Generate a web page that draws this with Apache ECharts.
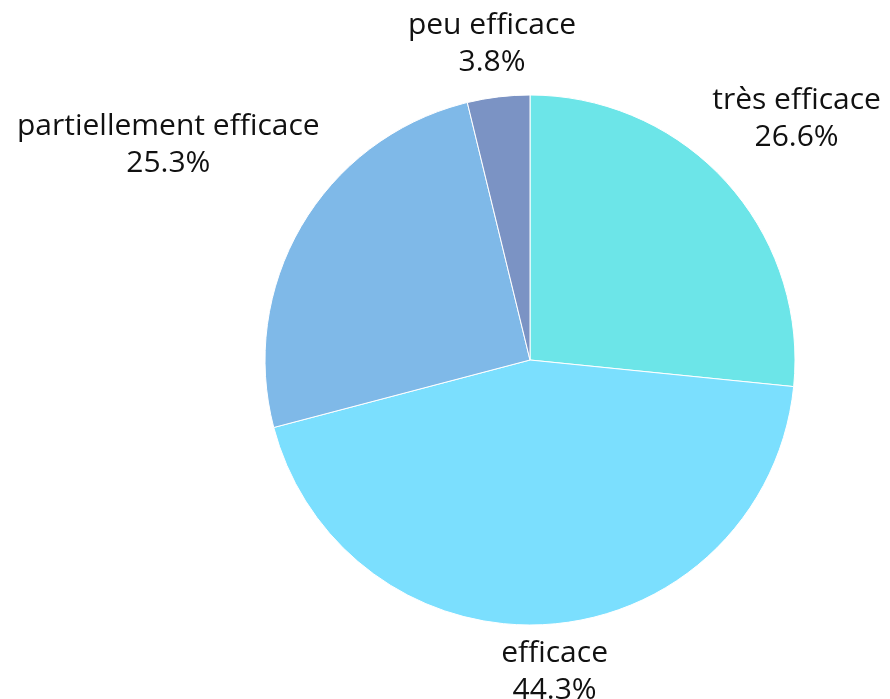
<!DOCTYPE html>
<html><head><meta charset="utf-8">
<script src="https://cdn.jsdelivr.net/npm/echarts@6/dist/echarts.min.js"></script>
<style>html,body{margin:0;padding:0;background:#fff}#c{width:890px;height:699px}</style>
</head><body><div id="c"></div>
<script>
const categories = ['très efficace', 'efficace', 'partiellement efficace', 'peu efficace'];
const values = [26.6, 44.3, 25.3, 3.8];
const colors = ['#6CE5E8', '#7BDFFE', '#7FB9E8', '#7B93C4'];

const CX = 530, CY = 360, R = 265, GAP = 7;
const total = values.reduce((a, b) => a + b, 0);
function midAngle(i) {
  let s = 0;
  for (let k = 0; k < i; k++) s += values[k];
  return ((s + values[i] / 2) / total) * 2 * Math.PI;
}
const chart = echarts.init(document.getElementById('c'));
chart.setOption({
  animation: false,
  series: [{
    type: 'pie',
    center: [CX, CY],
    radius: R,
    startAngle: 90,
    clockwise: true,
    avoidLabelOverlap: false,
    data: categories.map((n, i) => ({ name: n, value: values[i], itemStyle: { color: colors[i] } })),
    itemStyle: { borderColor: '#ffffff', borderWidth: 1 },
    label: {
      show: true,
      position: 'outside',
      formatter: p => p.name + '\n' + p.value.toFixed(1) + '%',
      fontFamily: 'Open Sans',
      fontSize: 30,
      fontWeight: 400,
      lineHeight: 37,
      color: '#111111',
      align: 'center'
    },
    labelLine: { show: false },
    labelLayout: function (params) {
      const a = midAngle(params.dataIndex);
      const ux = Math.sin(a), uy = -Math.cos(a);
      const w = params.labelRect.width, h = params.labelRect.height;
      const d = R + GAP + Math.abs(ux) * w / 2 + Math.abs(uy) * h / 2;
      return { x: CX + d * ux, y: CY + d * uy, align: 'center', verticalAlign: 'middle' };
    },
    emphasis: { disabled: true }
  }]
});
</script></body></html>
